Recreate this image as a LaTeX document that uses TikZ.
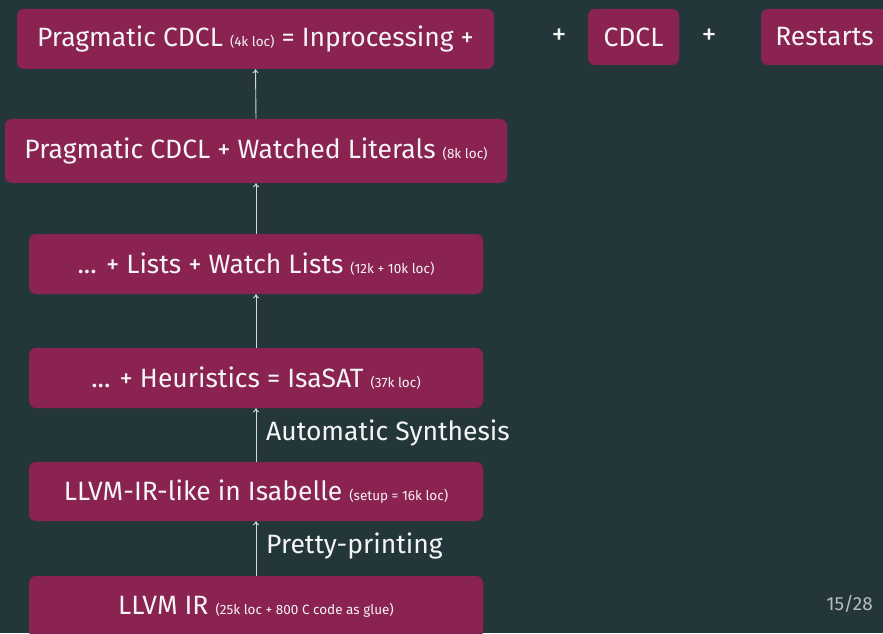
\documentclass[tikz,border=0pt]{standalone}
\usepackage{fontspec}
\setmainfont{Fira Sans}
\usetikzlibrary{arrows.meta}
\definecolor{bgc}{HTML}{23373B}
\definecolor{boxc}{HTML}{8A2252}
\definecolor{txt}{HTML}{F5F5F5}
\definecolor{pgc}{HTML}{B8BCBD}
\tikzset{
  box/.style={fill=boxc, rounded corners=7pt, text=txt, inner sep=0pt, font=\fontsize{26.5}{30}\selectfont},
  lbl/.style={text=txt, font=\fontsize{26.5}{30}\selectfont, inner sep=0pt},
  plus/.style={text=txt, font=\fontsize{30}{34}\selectfont, inner sep=0pt},
  arr/.style={draw=txt!85!bgc, line width=0.9pt, -{To[length=4pt,width=6pt]}},
}
\newcommand{\sm}[1]{{\fontsize{13.5}{16}\selectfont #1}}
\begin{document}
\begin{tikzpicture}[x=1pt,y=1pt]
\fill[bgc] (0,0) rectangle (883,633);
\useasboundingbox (0,0) rectangle (883,633);
\clip (0,0) rectangle (883,633);
\node[box, minimum width=477, minimum height=60] (b1) at (255.5,594) {Pragmatic CDCL \sm{(4k loc)} = Inprocessing +};
\node[plus] (p1) at (559,596) {+};
\node[box, minimum width=91, minimum height=56] (cdcl) at (633.5,596) {CDCL};
\node[plus] (p2) at (709,596) {+};
\node[box, minimum width=127, minimum height=56] (rest) at (824.5,596) {Restarts};
\node[box, minimum width=502, minimum height=64] (b2) at (256,482) {Pragmatic CDCL + Watched Literals \sm{(8k loc)}};
\node[box, minimum width=454, minimum height=60] (b3) at (256,369) {... + Lists + Watch Lists \sm{(12k + 10k loc)}};
\node[box, minimum width=454, minimum height=60] (b4) at (256,255) {... + Heuristics = IsaSAT \sm{(37k loc)}};
\node[box, minimum width=454, minimum height=59] (b5) at (256,141.5) {LLVM-IR-like in Isabelle \sm{(setup = 16k loc)}};
\node[box, minimum width=454, minimum height=62] (b6) at (256,26) {LLVM IR \sm{(25k loc + 800 C code as glue)}};
\draw[arr] (b2.north) -- (b1.south);
\draw[arr] (b3.north) -- (b2.south);
\draw[arr] (b4.north) -- (b3.south);
\draw[arr] (b5.north) -- (b4.south);
\draw[arr] (b6.north) -- (b5.south);
\node[lbl, anchor=west] (l1) at (266,200) {Automatic Synthesis};
\node[lbl, anchor=west] (l2) at (266,87) {Pretty-printing};
\node[text=pgc, anchor=east, inner sep=0pt, font=\fontsize{19}{22}\selectfont] (pg) at (873,29) {15/28};
\end{tikzpicture}
\end{document}
